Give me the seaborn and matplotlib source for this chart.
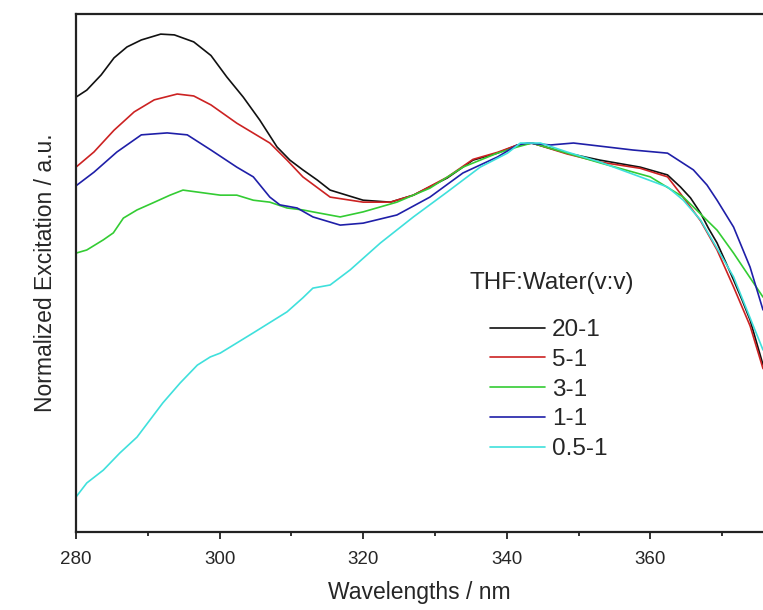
import matplotlib
matplotlib.use("Agg")
import matplotlib.pyplot as plt
import seaborn as sns
import pandas as pd
from matplotlib.ticker import MultipleLocator
from matplotlib.lines import Line2D

# data (normalised to the 343 nm peak)
wl_20 = [280.0, 281.5, 283.5, 285.3, 287.1, 289.1, 291.8, 293.7, 296.4, 298.8, 301.0, 303.3, 305.6, 308.0, 309.8,
         311.6, 313.6, 315.4, 320.0, 323.8, 327.0, 331.7, 335.3, 338.7, 341.5, 343.5, 348.4, 353.0, 358.6, 362.4,
         364.2, 365.6, 367.0, 368.1, 369.3, 370.5, 371.6, 372.8, 373.9, 375.7]
y_20 = [1.118, 1.136, 1.175, 1.219, 1.247, 1.265, 1.280, 1.278, 1.260, 1.225, 1.170, 1.118, 1.059, 0.990, 0.956,
        0.931, 0.905, 0.879, 0.853, 0.848, 0.866, 0.910, 0.956, 0.974, 0.995, 1.000, 0.974, 0.956, 0.938, 0.918,
        0.887, 0.859, 0.820, 0.781, 0.743, 0.694, 0.648, 0.596, 0.545, 0.430]

wl_5 = [280.0, 282.5, 285.3, 288.1, 290.9, 294.1, 296.4, 298.8, 302.4, 307.0, 309.4, 311.6, 315.4,
        320.0, 323.8, 327.0, 331.7, 335.3, 338.7, 341.5, 343.5, 348.4, 353.0, 358.6, 362.4, 364.2, 367.0, 369.3,
        371.6, 373.9, 375.7]
y_5 = [0.938, 0.977, 1.033, 1.080, 1.111, 1.126, 1.121, 1.098, 1.051, 1.000, 0.956, 0.913, 0.861,
       0.848, 0.848, 0.866, 0.912, 0.958, 0.976, 0.995, 1.000, 0.972, 0.951, 0.935, 0.913, 0.870, 0.800, 0.725,
       0.630, 0.530, 0.420]

wl_3 = [280.0, 281.5, 283.8, 285.2, 286.6, 288.5, 290.7, 293.1, 294.9, 296.9, 300.1, 302.4, 304.7, 307.0, 309.4,
        311.6, 313.0, 316.8, 320.0, 324.7, 329.3, 333.9, 338.7, 341.5, 343.5, 348.4, 353.0, 360.0, 364.6, 369.3,
        371.6, 375.7]
y_3 = [0.717, 0.725, 0.751, 0.769, 0.807, 0.828, 0.846, 0.866, 0.879, 0.874, 0.866, 0.866, 0.853, 0.848, 0.833,
       0.828, 0.823, 0.810, 0.823, 0.848, 0.884, 0.938, 0.974, 0.990, 1.000, 0.974, 0.949, 0.913, 0.861, 0.776,
       0.717, 0.604]

wl_1 = [280.0, 282.5, 285.7, 289.1, 292.7, 295.5, 298.8, 302.4, 304.7, 307.0, 308.4, 310.8,
        313.0, 316.8, 320.0, 324.7, 329.3, 333.9, 338.7, 341.5, 342.9, 346.1, 349.3, 353.0, 357.6, 362.4, 366.0,
        367.9, 369.3, 371.6, 373.9, 375.7]
y_1 = [0.890, 0.925, 0.977, 1.021, 1.026, 1.021, 0.982, 0.938, 0.913, 0.861, 0.841, 0.833,
       0.810, 0.789, 0.794, 0.815, 0.861, 0.923, 0.964, 0.995, 1.000, 0.995, 1.000, 0.992, 0.982, 0.974, 0.931,
       0.892, 0.853, 0.784, 0.681, 0.571]

wl_05 = [280.0, 281.5, 283.8, 286.1, 288.5, 290.3, 292.1, 294.5, 296.9, 298.7, 300.1, 304.7, 309.4, 311.6, 313.0,
         315.4, 318.2, 322.4, 327.0, 331.7, 336.3, 340.1, 341.9, 344.7, 348.4, 353.0, 358.6, 362.4, 364.6, 367.0,
         371.6, 375.7]
y_05 = [0.090, 0.126, 0.159, 0.203, 0.244, 0.288, 0.332, 0.383, 0.429, 0.450, 0.460, 0.512, 0.566, 0.602, 0.627,
        0.635, 0.674, 0.743, 0.810, 0.874, 0.938, 0.974, 1.000, 1.000, 0.977, 0.951, 0.913, 0.887, 0.853, 0.802,
        0.656, 0.468]

labels = ["20-1", "5-1", "3-1", "1-1", "0.5-1"]
colors = ["#111111", "#cc2222", "#33cc33", "#1f1fa8", "#3fe0dc"]

frames = []
for lab, w, v in zip(labels, [wl_20, wl_5, wl_3, wl_1, wl_05], [y_20, y_5, y_3, y_1, y_05]):
    frames.append(pd.DataFrame({"wl": w, "val": v, "ratio": lab}))
df = pd.concat(frames, ignore_index=True)

sns.set_style("ticks")
plt.rcParams["font.family"] = ["Liberation Sans", "DejaVu Sans"]

fig = plt.figure(figsize=(7.63, 6.10), dpi=100)
ax = fig.add_axes([76 / 763, 1 - 532 / 610, 1 - 76 / 763, (532 - 13.5) / 610])

sns.lineplot(data=df, x="wl", y="val", hue="ratio", palette=dict(zip(labels, colors)),
             hue_order=labels, sort=False, estimator=None, linewidth=1.2, ax=ax, legend=False)

ax.set_xlim(280, 375.7)
ax.set_ylim(0, 1.333)
ax.set_yticks([])
ax.xaxis.set_major_locator(MultipleLocator(20))
ax.xaxis.set_minor_locator(MultipleLocator(10))
ax.tick_params(axis="x", which="major", direction="out", length=5, width=1.3, labelsize=13.5, pad=9, color="#222222")
ax.tick_params(axis="x", which="minor", direction="out", length=3, width=1.3, color="#222222")
for s in ["left", "top", "bottom"]:
    ax.spines[s].set_linewidth(1.6)
    ax.spines[s].set_color("#222222")
ax.spines["right"].set_visible(False)

ax.set_xlabel("Wavelengths / nm", fontsize=16.5, labelpad=9)
ax.set_ylabel("Normalized Excitation / a.u.", fontsize=16.5, labelpad=14)

handles = [Line2D([], [], color=c, linewidth=1.2) for c in colors]
fig.text(470 / 763, 1 - 283 / 610, "THF:Water(v:v)", fontsize=17.5, ha="left", va="center")
ax.legend(handles, labels, loc="upper left", bbox_to_anchor=(490 / 763, 1 - 319 / 610),
          bbox_transform=fig.transFigure, frameon=False, fontsize=17.5, handlelength=2.25,
          handletextpad=0.3, labelspacing=0.32, borderpad=0, borderaxespad=0)

fig.savefig("out.png", dpi=100)
